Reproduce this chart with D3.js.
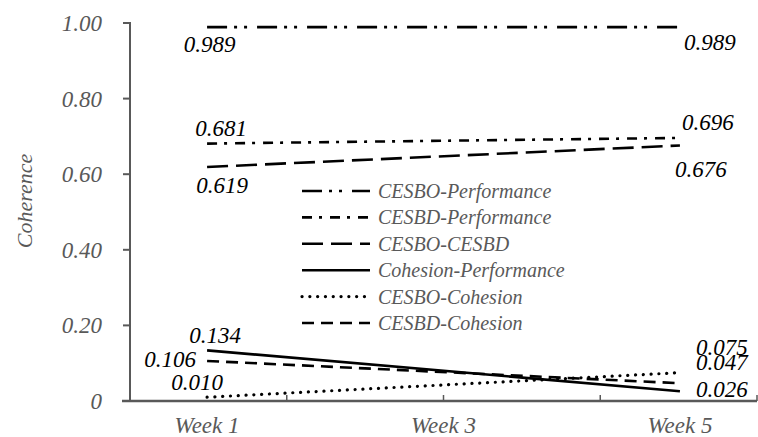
<!DOCTYPE html>
<html>
<head>
<meta charset="utf-8">
<script src="https://cdn.jsdelivr.net/npm/d3@7"></script>
</head>
<body style="margin:0">
<svg id="s" width="758" height="437"></svg>
<script>
// ---- data ----
const categories = ["Week 1", "Week 3", "Week 5"];
const seriesNames = ["CESBO-Performance", "CESBD-Performance", "CESBO-CESBD", "Cohesion-Performance", "CESBO-Cohesion", "CESBD-Cohesion"];
const week1Values = [0.989, 0.681, 0.619, 0.134, 0.010, 0.106];
const week5Values = [0.989, 0.696, 0.676, 0.026, 0.075, 0.047];
const yTicks = [0, 0.2, 0.4, 0.6, 0.8, 1.0];
const yTickLabels = ["0", "0.20", "0.40", "0.60", "0.80", "1.00"];

// ---- styles (not data) ----
const dashes = ["20,7,3,7,3,10", "10,7,3,8", "21,8", null, "0.1,7.7", "12,7"];
const labelOff = [
  [{dx: 2.5, dy: 25}, {dx: 30, dy: 23}],
  [{dx: 14, dy: -7.5}, {dx: 28, dy: -8}],
  [{dx: 15, dy: 26}, {dx: 21, dy: 31.5}],
  [{dx: 8, dy: -7}, {dx: 42, dy: 6}],
  [{dx: -10, dy: -7}, {dx: 42, dy: -17.5}],
  [{dx: -37, dy: 6}, {dx: 42, dy: -13}]
];

const svg = d3.select("#s");
const mLeft = 130, mRight = 757, mTop = 23, mBottom = 401;
const gray = "#595959";

function txt(sel, size, fill) {
  return sel.attr("font-size", size).attr("font-family", '"Liberation Serif"')
    .attr("font-style", "italic").attr("fill", fill);
}

const x = d3.scalePoint().domain(categories).range([mLeft, mRight]).padding(0.326);
const y = d3.scaleLinear().domain([0, 1]).range([mBottom, mTop]);

// y axis (drawn from the scale)
const gy = svg.append("g");
gy.append("path").attr("d", `M${mLeft - 7},${y(1)}H${mLeft}V${y(0)}`)
  .attr("fill", "none").attr("stroke", gray).attr("stroke-width", 2);
yTicks.forEach((t, i) => {
  gy.append("line").attr("x1", mLeft - 7).attr("x2", mLeft).attr("y1", y(t)).attr("y2", y(t))
    .attr("stroke", gray).attr("stroke-width", 2);
  txt(gy.append("text"), 23, gray).attr("x", mLeft - 28).attr("y", y(t) + 8)
    .attr("text-anchor", "end").text(yTickLabels[i]);
});

// x axis
svg.append("line").attr("x1", mLeft - 8).attr("x2", mRight).attr("y1", mBottom).attr("y2", mBottom)
  .attr("stroke", gray).attr("stroke-width", 2.5);
const nDiv = 4;
d3.range(nDiv + 1).map(i => mLeft + i * (mRight - mLeft) / nDiv).forEach(px => {
  svg.append("line").attr("x1", px).attr("x2", px).attr("y1", mBottom).attr("y2", mBottom - 6)
    .attr("stroke", gray).attr("stroke-width", 1.5);
});
categories.forEach(c => {
  txt(svg.append("text"), 23, gray).attr("x", x(c)).attr("y", 433).attr("text-anchor", "middle").text(c);
});

// y title
txt(svg.append("text"), 22, gray).attr("transform", "translate(32,201) rotate(-90)")
  .attr("text-anchor", "middle").text("Coherence");

// lines
const line = d3.line().x(d => x(d.cat)).y(d => y(d.v));
const series = seriesNames.map((name, i) => ({
  name, i,
  pts: [{cat: "Week 1", v: week1Values[i]}, {cat: "Week 5", v: week5Values[i]}]
}));
series.forEach(s => {
  svg.append("path").attr("d", line(s.pts))
    .attr("fill", "none").attr("stroke", "#000")
    .attr("stroke-width", s.i === 4 ? 3.2 : 2.6)
    .attr("stroke-linecap", s.i === 4 ? "round" : "butt")
    .attr("stroke-dasharray", dashes[s.i]);
});

// data labels
series.forEach(s => {
  s.pts.forEach((p, j) => {
    txt(svg.append("text"), 23, "#000")
      .attr("x", x(p.cat) + labelOff[s.i][j].dx)
      .attr("y", y(p.v) + labelOff[s.i][j].dy)
      .attr("text-anchor", "middle")
      .text(p.v.toFixed(3));
  });
});

// legend
const rowH = 26.4;
seriesNames.forEach((name, i) => {
  const yy = 191 + i * rowH;
  svg.append("line").attr("x1", 302).attr("x2", 370).attr("y1", yy).attr("y2", yy)
    .attr("stroke", "#000").attr("stroke-width", i === 4 ? 3.2 : 2.6)
    .attr("stroke-linecap", i === 4 ? "round" : "butt")
    .attr("stroke-dasharray", dashes[i]);
  txt(svg.append("text"), 20, gray).attr("x", 378).attr("y", yy + 7).text(name);
});
</script>
</body>
</html>
